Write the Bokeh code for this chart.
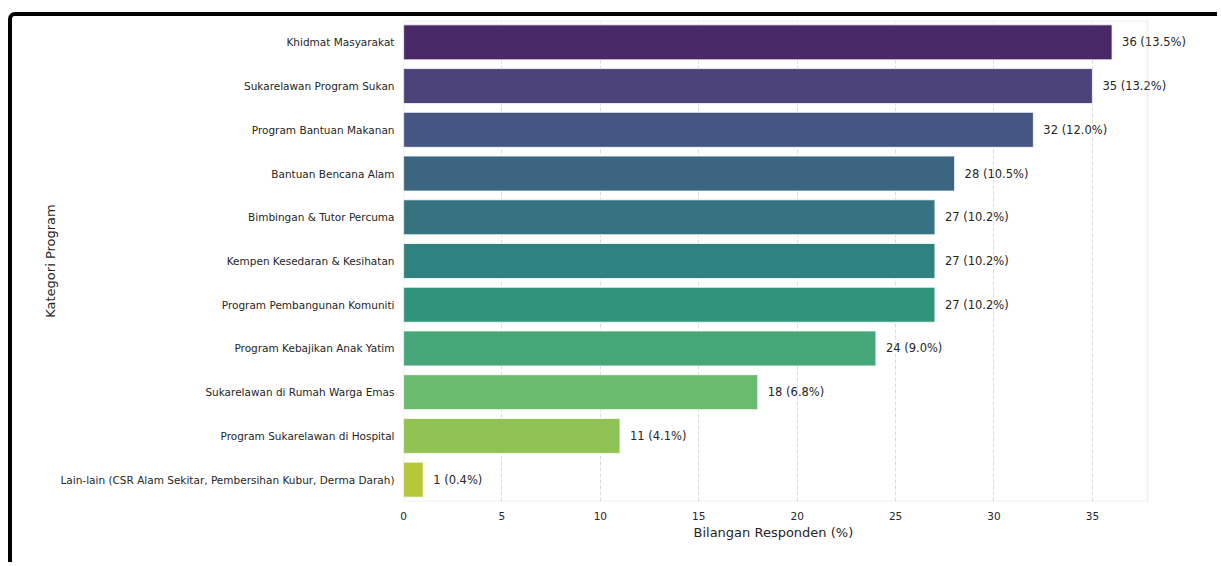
import colorsys
from bokeh.plotting import figure
from bokeh.models import (FactorRange, Range1d, FixedTicker, ColumnDataSource,
                          BoxAnnotation, Title)
from bokeh.palettes import Viridis256
from bokeh.core.properties import value
from bokeh.embed import file_html
from bokeh.resources import INLINE

categories = [
    "Khidmat Masyarakat",
    "Sukarelawan Program Sukan",
    "Program Bantuan Makanan",
    "Bantuan Bencana Alam",
    "Bimbingan & Tutor Percuma",
    "Kempen Kesedaran & Kesihatan",
    "Program Pembangunan Komuniti",
    "Program Kebajikan Anak Yatim",
    "Sukarelawan di Rumah Warga Emas",
    "Program Sukarelawan di Hospital",
    "Lain-lain (CSR Alam Sekitar, Pembersihan Kubur, Derma Darah)",
]
counts = [36, 35, 32, 28, 27, 27, 27, 24, 18, 11, 1]
percents = ["13.5", "13.2", "12.0", "10.5", "10.2", "10.2", "10.2", "9.0", "6.8", "4.1", "0.4"]
x_ticks = [0, 5, 10, 15, 20, 25, 30, 35]

def desat(hexcol, prop=0.75):
    r, g, b = (int(hexcol[i:i + 2], 16) / 255 for i in (1, 3, 5))
    h, l, s = colorsys.rgb_to_hls(r, g, b)
    r, g, b = colorsys.hls_to_rgb(h, l, s * prop)
    return "#%02x%02x%02x" % (round(r * 255), round(g * 255), round(b * 255))

n = len(categories)
colors = [desat(Viridis256[int((i + 1) / (n + 1) * 256)]) for i in range(n)]
labels = [f"{c} ({p}%)" for c, p in zip(counts, percents)]

src = ColumnDataSource(dict(cat=categories, cnt=counts, col=colors, lab=labels))

W, H = 1209, 550
LEFT, AX_RIGHT, FRAME_RIGHT = 391, 1135, 1205
xmax = max(counts) * 1.05
px_per_unit = (AX_RIGHT - LEFT) / xmax
x_end = xmax + (FRAME_RIGHT - AX_RIGHT) / px_per_unit

p = figure(
    width=W, height=H,
    y_range=FactorRange(*reversed(categories), range_padding=0),
    x_range=Range1d(0, x_end),
    output_backend="svg", toolbar_location=None,
    min_border_left=LEFT, min_border_right=W - FRAME_RIGHT, min_border_top=4, min_border_bottom=65,
)
p.y_range.factor_padding = 0
p.styles = {
    "border-left": "4px solid black",
    "border-top": "4px solid black",
    "border-top-left-radius": "7px",
    "margin-top": "12px",
    "margin-left": "8px",
}

p.hbar(y="cat", right="cnt", left=0, height=0.8, source=src,
       fill_color="col", line_color="white", line_width=0.8)

p.text(x="cnt", y="cat", text="lab", source=src, x_offset=10,
       text_baseline="middle", text_align="left",
       text_font=value("DejaVu Sans"), text_font_size="11.5px", text_color="#262626")

# axes frame (spines) limited to the data extent
p.add_layout(BoxAnnotation(left=0, right=xmax, fill_alpha=0,
                           line_color="#cfcfcf", line_width=2))

font = "DejaVu Sans"
p.xaxis.ticker = FixedTicker(ticks=x_ticks)
p.yaxis.axis_label = "Kategori Program"
for ax in (p.xaxis, p.yaxis):
    ax.major_tick_line_color = None
    ax.minor_tick_line_color = None
    ax.major_tick_out = 0
    ax.minor_tick_out = 0
    ax.axis_line_color = None
    ax.major_label_text_font = font
    ax.major_label_text_font_size = "10.5px"
    ax.major_label_text_color = "#262626"
    ax.axis_label_text_font = font
    ax.axis_label_text_font_size = "13px"
    ax.axis_label_text_font_style = "normal"
    ax.axis_label_text_color = "#262626"
p.xaxis.major_label_standoff = 10
p.yaxis.major_label_standoff = 9
p.yaxis.axis_label_standoff = 0

# x axis title, centred on the data extent rather than the wider frame
label_half_width = 82
p.add_layout(Title(text="Bilangan Responden (%)", align="left",
                   offset=(AX_RIGHT - LEFT) / 2 - label_half_width, standoff=0,
                   text_font=font, text_font_size="13px", text_font_style="normal",
                   text_color="#262626"), "below")

p.ygrid.grid_line_color = None
p.xgrid.grid_line_color = "#dcdcdc"
p.xgrid.grid_line_dash = "4 2"
p.xgrid.grid_line_width = 1

p.outline_line_color = None
p.background_fill_color = "white"
p.border_fill_color = "white"

open("out.html", "w").write(file_html(p, INLINE))
